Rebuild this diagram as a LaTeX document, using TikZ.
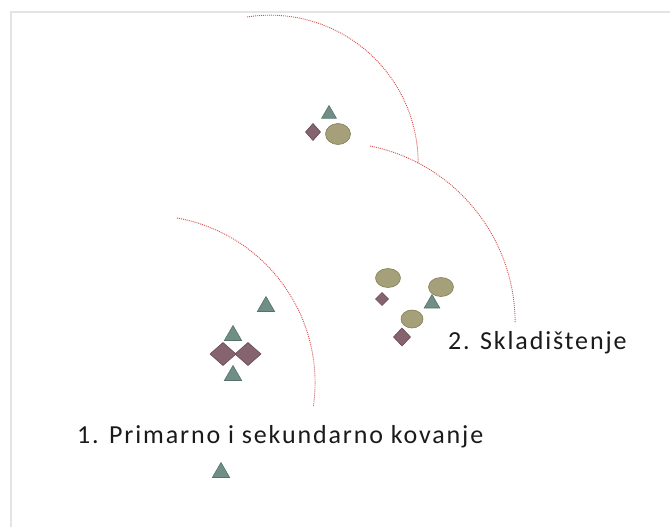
\documentclass[tikz,border=0pt]{standalone}
\usepackage{fontspec}
\setmainfont[LetterSpace=7.2]{Carlito}
\usetikzlibrary{shapes.geometric}
\definecolor{TriFill}{HTML}{6F8F86}
\definecolor{TriLine}{HTML}{56726A}
\definecolor{RhombFill}{HTML}{86646F}
\definecolor{RhombLine}{HTML}{694B56}
\definecolor{OvalFill}{HTML}{A6A07A}
\definecolor{OvalLine}{HTML}{84805A}
\definecolor{FenceRed}{HTML}{D9504E}
\definecolor{FrameGray}{HTML}{E4E4E4}
\definecolor{CaptionText}{HTML}{1A1A1A}

\begin{document}
\begin{tikzpicture}[x=1pt,y=1pt,
      tri/.style={regular polygon,regular polygon sides=3,draw=TriLine,fill=TriFill,
                  line width=0.6pt,inner sep=0pt,outer sep=0pt,minimum size=20pt},
      rhomb/.style={diamond,draw=RhombLine,fill=RhombFill,line width=0.6pt,
                    inner sep=0pt,outer sep=0pt,minimum width=26pt,minimum height=23pt},
      oval/.style={ellipse,draw=OvalLine,fill=OvalFill,line width=0.6pt,
                   inner sep=0pt,outer sep=0pt,minimum width=25pt,minimum height=19pt},
      fence/.style={draw=FenceRed,line width=0.9pt,dash pattern=on 1pt off 1pt},
      caption/.style={anchor=base west,inner sep=0pt,text=CaptionText,
                      font=\fontsize{26}{30}\selectfont}]
    \useasboundingbox (0,0) rectangle (670,-527);
    \draw[FrameGray,line width=2pt] (11,-527) -- (11,-12) -- (670,-12);
    % zone boundaries
    \draw[fence] (247,-17) arc[start angle=99,end angle=0,radius=148];
    \draw[fence] (370,-146) arc[start angle=78.7,end angle=0,radius=180.5];
    \draw[fence] (177,-218) arc[start angle=79.9,end angle=-8,radius=167.4];
    % top group
    \node[tri,minimum size=17pt] (topT) at (329,-114) {};
    \node[rhomb,minimum width=15pt,minimum height=17pt] (topD) at (313,-132) {};
    \node[oval,minimum height=21pt] (topE) at (338,-134) {};
    % forging group
    \node[tri] (forgeA) at (266,-306.5) {};
    \node[tri] (forgeB) at (233,-335.5) {};
    \node[rhomb] (forgeL) at (223,-354) {};
    \node[rhomb] (forgeR) at (248,-354) {};
    \node[tri] (forgeC) at (233,-375.5) {};
    \node[tri] (forgeD) at (221,-472.5) {};
    % storage group
    \node[oval] (storeA) at (388,-278) {};
    \node[rhomb,minimum width=13pt,minimum height=13pt] (storeB) at (382,-299) {};
    \node[tri,minimum size=18pt] (storeC) at (432,-303.5) {};
    \node[oval] (storeD) at (441,-287) {};
    \node[oval,minimum width=22pt,minimum height=18pt] (storeE) at (412,-319) {};
    \node[rhomb,minimum width=17pt,minimum height=18pt] (storeF) at (402,-337) {};
    % labels
    \node[caption] (forgeLbl) at (77,-443) {1. Primarno i sekundarno kovanje};
    \node[caption] (storeLbl) at (448,-349) {2. Skladištenje};
  \end{tikzpicture}
\end{document}
